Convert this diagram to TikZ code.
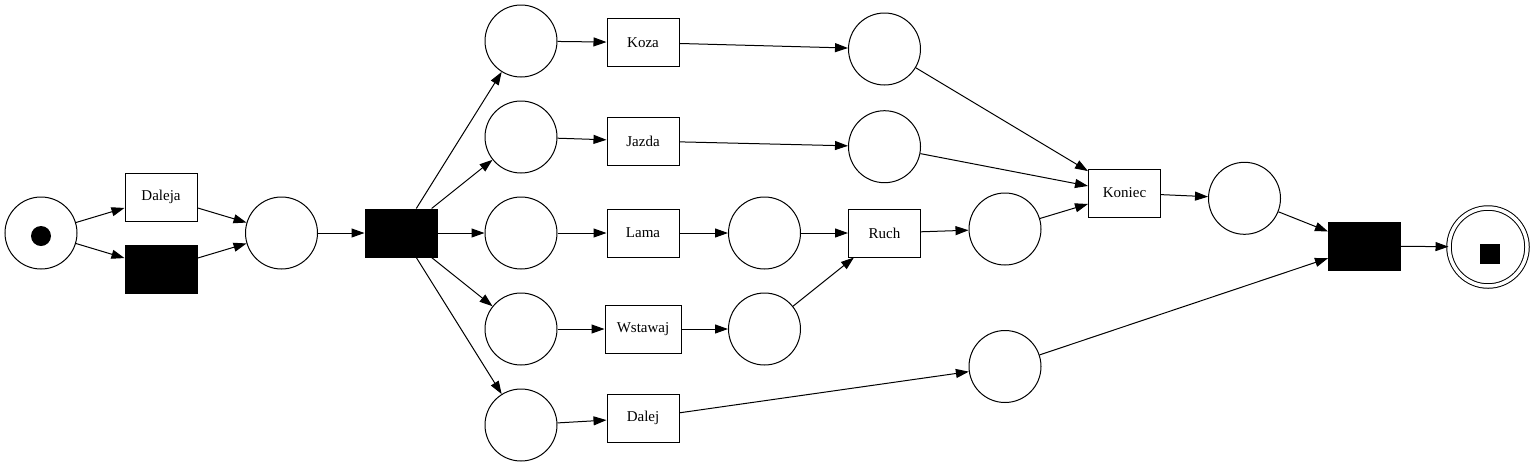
\documentclass[tikz,border=0pt]{standalone}
\usepackage{fontspec}
\setmainfont{Liberation Serif}
\newfontfamily\lserif{Liberation Serif}
\usetikzlibrary{arrows.meta}
\begin{document}
\begin{tikzpicture}[x=1pt,y=-1pt,
  place/.style={circle,draw,line width=1pt,minimum size=72pt,inner sep=0pt},
  trans/.style={rectangle,draw,line width=1pt,minimum width=72pt,minimum height=48pt,inner sep=0pt,font=\lserif\fontsize{15pt}{18pt}\selectfont},
  silent/.style={rectangle,draw,fill=black,line width=1pt,minimum width=72pt,minimum height=48pt,inner sep=0pt},
  arc/.style={line width=1pt,-{Triangle[length=13pt,width=9pt]}}]
\useasboundingbox (0,0) rectangle (1537,467);
% places
\node[place] (ps) at (41,233) {};
\node[circle,fill=black,minimum size=20pt,inner sep=0pt] (tok) at (41,236) {};
\node[place] (p1) at (281.5,233) {};
\node[place] (pa) at (521,41) {};
\node[place] (pb) at (521,137) {};
\node[place] (pc) at (521,233) {};
\node[place] (pd) at (521,329) {};
\node[place] (pe) at (521,425) {};
\node[place] (pkoza) at (884.5,49) {};
\node[place] (pjazda) at (884.5,146.7) {};
\node[place] (plama) at (764.5,233) {};
\node[place] (pwst) at (764.5,329) {};
\node[place] (pruch) at (1005,229) {};
\node[place] (pdalej) at (1005,366.5) {};
\node[place] (pkon) at (1244.5,198.3) {};
\node[place,minimum size=78pt,double,double distance=3.5pt] (pend) at (1488,247) {};
\node[rectangle,fill=black,minimum size=20pt,inner sep=0pt] (sq) at (1490,253.5) {};
% transitions
\node[trans] (daleja) at (161,197) {Daleja};
\node[silent] (t1) at (161,269) {};
\node[silent] (split) at (401,233) {};
\node[trans] (koza) at (643,42.5) {Koza};
\node[trans] (jazda) at (643,141) {Jazda};
\node[trans] (lama) at (643,233) {Lama};
\node[trans,minimum width=76pt] (wst) at (643,329) {Wstawaj};
\node[trans] (dalej) at (643,418) {Dalej};
\node[trans] (ruch) at (884.5,233) {Ruch};
\node[trans] (koniec) at (1124.5,193) {Koniec};
\node[silent] (tend) at (1364.5,246) {};
% arcs
\draw[arc] (ps) -- (daleja);
\draw[arc] (ps) -- (t1);
\draw[arc] (daleja) -- (p1);
\draw[arc] (t1) -- (p1);
\draw[arc] (p1) -- (split);
\draw[arc] (split) -- (pa);
\draw[arc] (split) -- (pb);
\draw[arc] (split) -- (pc);
\draw[arc] (split) -- (pd);
\draw[arc] (split) -- (pe);
\draw[arc] (pa) -- (koza);
\draw[arc] (pb) -- (jazda);
\draw[arc] (pc) -- (lama);
\draw[arc] (pd) -- (wst);
\draw[arc] (pe) -- (dalej);
\draw[arc] (koza) -- (pkoza);
\draw[arc] (jazda) -- (pjazda);
\draw[arc] (lama) -- (plama);
\draw[arc] (wst) -- (pwst);
\draw[arc] (dalej) -- (pdalej);
\draw[arc] (plama) -- (ruch);
\draw[arc] (pwst) -- (ruch);
\draw[arc] (ruch) -- (pruch);
\draw[arc] (pkoza) -- (koniec);
\draw[arc] (pjazda) -- (koniec);
\draw[arc] (pruch) -- (koniec);
\draw[arc] (koniec) -- (pkon);
\draw[arc] (pkon) -- (tend);
\draw[arc] (pdalej) -- (tend);
\draw[arc] (tend) -- (pend);
\end{tikzpicture}
\end{document}
